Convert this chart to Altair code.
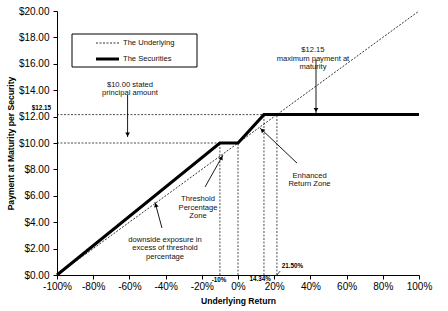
import altair as alt
import pandas as pd

# ---- data ----
under_x = [-100, 100]
under_y = [0, 20]
sec_x = [-100, -10, 0, 14.34, 100]
sec_y = [0, 10, 10, 12.15, 12.15]
x_ticks = [-100, -80, -60, -40, -20, 0, 20, 40, 60, 80, 100]
y_ticks = [0, 2, 4, 6, 8, 10, 12, 14, 16, 18, 20]

# reference (dotted) segments
ref_x = [-100, -100, -10, 0, 14.34, 21.5]
ref_x2 = [0, 21.5, -10, 0, 14.34, 21.5]
ref_y = [10, 12.15, 0, 0, 0, 0]
ref_y2 = [10, 12.15, 10, 10, 12.15, 12.15]

# annotation texts
ann_text = ["$10.00 stated\nprincipal amount",
            "$12.15\nmaximum payment at\nmaturity",
            "Enhanced\nReturn Zone",
            "Threshold\nPercentage\nZone",
            "downside exposure in\nexcess of threshold\npercentage"]
ann_x = [-59.7, 41.4, 39.5, -22.1, -40.3]
ann_y = [14.43, 17.02, 7.52, 5.74, 2.65]

# arrows
arr_x = [-61.0, 43.1, 32.6, -18.2, -42.0]
arr_y = [13.64, 16.29, 8.48, 6.67, 3.56]
arr_x2 = [-61.0, 43.1, 12.15, -8.29, -45.9]
arr_y2 = [10.45, 12.27, 11.14, 9.09, 5.53]
head_x = [-61.0, 43.1, 13.3, -9.1, -45.4]
head_y = [10.65, 12.5, 10.98, 8.89, 5.3]
head_angle = [180, 180, 313, 29, 345]

# small value labels
lab_text = ["$12.15", "-10%", "14.34%", "21.50%"]
lab_x = [-108.6, -10.5, 12.2, 30.1]
lab_y = [12.65, -0.38, -0.28, 0.68]

legend_names = ["The Underlying", "The Securities"]

FONT = "Liberation Sans"

xs = alt.Scale(domain=[-100, 100], nice=False, zero=False)
ys = alt.Scale(domain=[0, 20], nice=False)

XT = "Underlying Return"
YT = "Payment at Maturity per Security"

x_axis = alt.Axis(values=x_ticks, labelExpr="datum.value + '%'")
y_axis = alt.Axis(values=y_ticks, labelExpr="'$' + format(datum.value, '.2f')")

def X(f="x"):
    return alt.X(f"{f}:Q", scale=xs, title=XT, axis=x_axis)

def Y(f="y"):
    return alt.Y(f"{f}:Q", scale=ys, title=YT, axis=y_axis)

under_df = pd.DataFrame({"x": under_x, "y": under_y})
sec_df = pd.DataFrame({"x": sec_x, "y": sec_y, "o": list(range(len(sec_x)))})
ref_df = pd.DataFrame({"x": ref_x, "x2": ref_x2, "y": ref_y, "y2": ref_y2})
ann_df = pd.DataFrame({"t": ann_text, "x": ann_x, "y": ann_y})
arr_df = pd.DataFrame({"x": arr_x, "x2": arr_x2, "y": arr_y, "y2": arr_y2})
head_df = pd.DataFrame({"x": head_x, "y": head_y, "a": head_angle})
lab_df = pd.DataFrame({"t": lab_text, "x": lab_x, "y": lab_y})

under = alt.Chart(under_df).mark_line(color="black", strokeWidth=0.8, strokeDash=[2, 1.5]).encode(
    x=X(), y=Y())

refs = alt.Chart(ref_df).mark_rule(color="black", strokeWidth=0.7, strokeDash=[2, 1.5]).encode(
    x=X(), x2="x2:Q", y=Y(), y2="y2:Q")

sec = alt.Chart(sec_df).mark_line(color="black", strokeWidth=3).encode(
    x=X(), y=Y(), order="o:Q")

arrows = alt.Chart(arr_df).mark_rule(color="black", strokeWidth=0.9).encode(
    x=X(), x2="x2:Q", y=Y(), y2="y2:Q")

heads = alt.Chart(head_df).mark_point(shape="triangle-up", filled=True, color="black", size=22, opacity=1).encode(
    x=X(), y=Y(), angle=alt.Angle("a:Q", scale=None))

anns = alt.Chart(ann_df).mark_text(font=FONT, fontSize=7.6, color="#111111", lineBreak="\n",
                                   align="center", baseline="middle", lineHeight=8.3).encode(
    x=X(), y=Y(), text="t:N")

labs = alt.Chart(lab_df).mark_text(font=FONT, fontSize=6.3, fontWeight="bold", color="black",
                                   align="center", baseline="middle").encode(
    x=X(), y=Y(), text="t:N")

lead_df = pd.DataFrame({"x": [21.5], "x2": [23.3], "y": [0.0], "y2": [0.3]})
lead = alt.Chart(lead_df).mark_rule(color="black", strokeWidth=0.7).encode(
    x=X(), x2="x2:Q", y=Y(), y2="y2:Q")

# manual legend box
one = pd.DataFrame({"k": [0]})
box = alt.Chart(one).mark_rect(fill="white", stroke="black", strokeWidth=1).encode(
    x=alt.value(15), x2=alt.value(140), y=alt.value(23), y2=alt.value(56))
leg1 = alt.Chart(one).mark_rule(color="black", strokeWidth=0.8, strokeDash=[2, 1.5]).encode(
    x=alt.value(39), x2=alt.value(62), y=alt.value(32))
leg2 = alt.Chart(one).mark_rule(color="black", strokeWidth=3).encode(
    x=alt.value(39), x2=alt.value(62), y=alt.value(48))
leg_df = pd.DataFrame({"t": legend_names, "py": [32, 48]})
legt = alt.Chart(leg_df).mark_text(font=FONT, fontSize=7.6, color="#111111", align="left",
                                   baseline="middle").encode(
    x=alt.value(66), y=alt.Y("py:Q", scale=None, axis=None), text="t:N")

chart = alt.layer(under, refs, sec, arrows, heads, anns, labs, lead, box, leg1, leg2, legt).properties(
    width=362, height=264,
    autosize=alt.AutoSizeParams(type="none"),
    padding={"left": 57, "top": 11, "right": 29, "bottom": 36},
    background="white",
).configure_view(stroke=None).configure_axis(
    grid=False, domainColor="black", tickColor="black", tickSize=4,
    labelFont=FONT, labelFontSize=10, labelColor="black",
    titleFont=FONT, titleFontSize=8.6, titleFontWeight="bold", titleColor="black",
).configure_axisX(labelPadding=2, titlePadding=5, labelFlush=False
).configure_axisY(labelPadding=4, titlePadding=3)

chart.save("out.html", embed_options={"renderer": "svg", "actions": False})
